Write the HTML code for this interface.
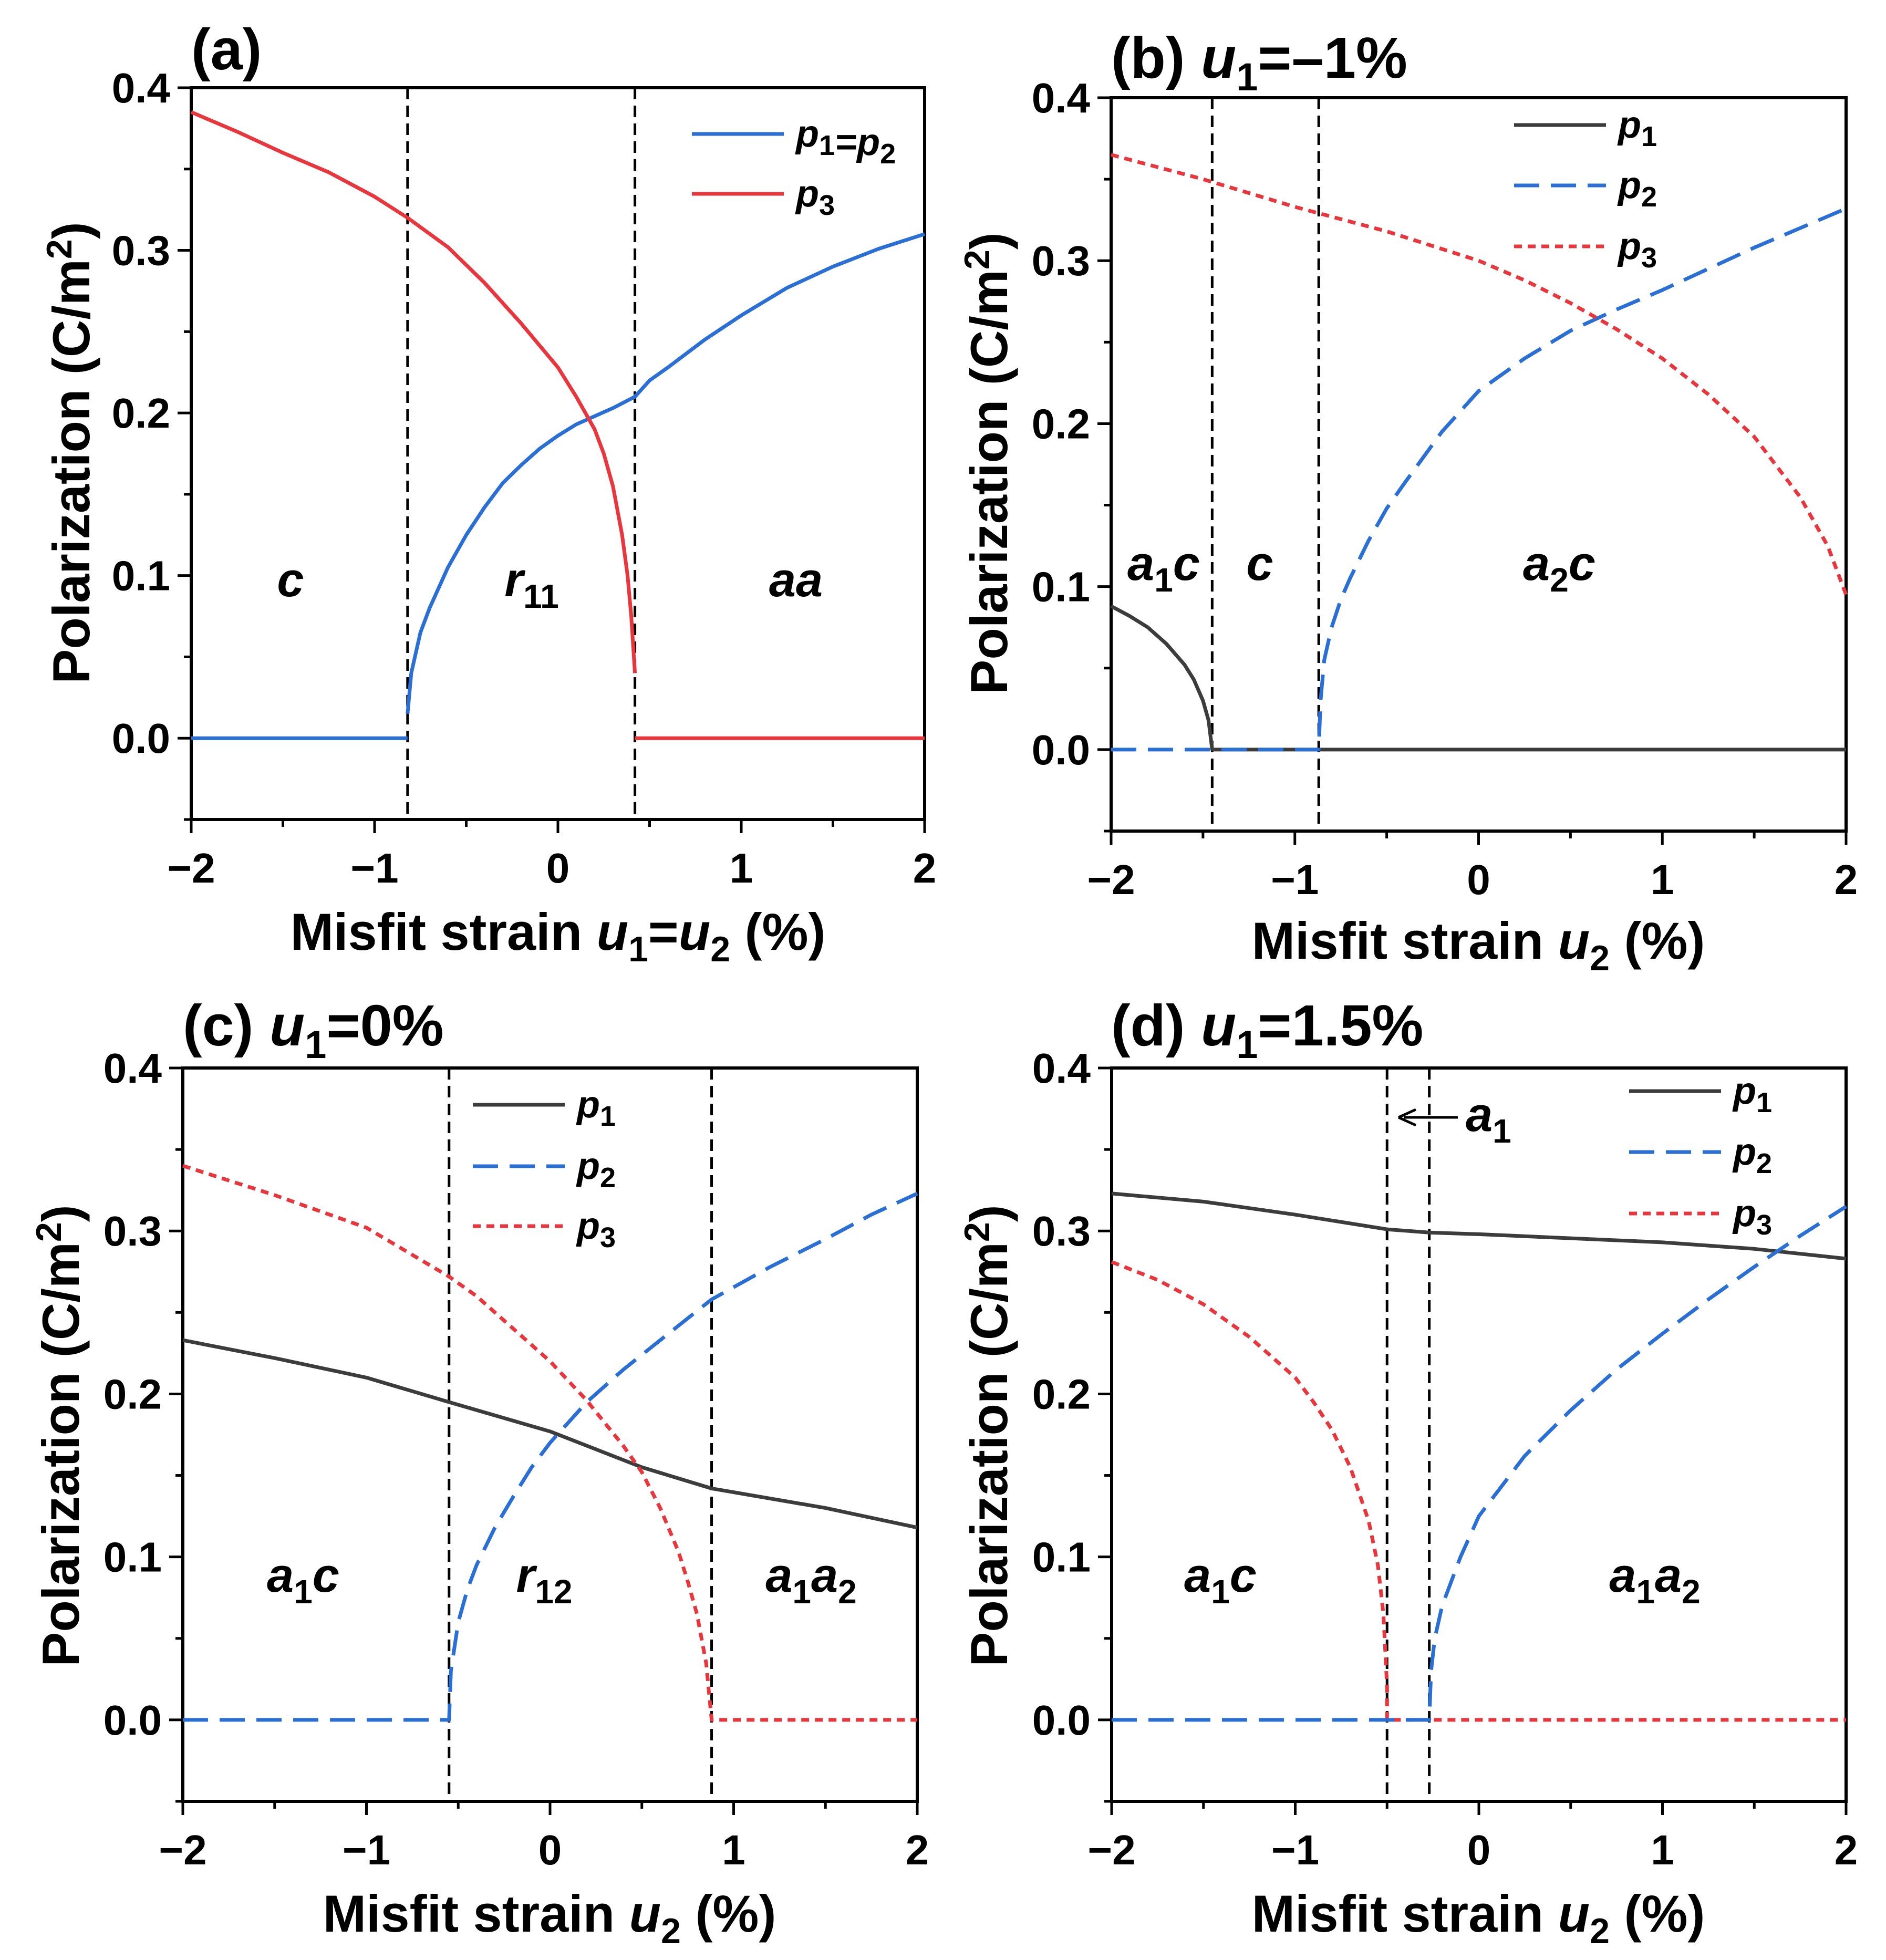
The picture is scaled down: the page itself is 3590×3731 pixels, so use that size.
<!DOCTYPE html>
<html><head><meta charset="utf-8"><style>
html,body{margin:0;padding:0;background:#fff;}
svg{display:block;font-family:"Liberation Sans",Arial,sans-serif;}
.tk{font-size:80px;font-weight:bold;}
.tt{font-size:99px;font-weight:bold;}
.pt{font-size:110px;font-weight:bold;}
.rl{font-size:92px;font-weight:bold;font-style:italic;}
.lg{font-size:72px;font-weight:bold;font-style:italic;}
</style></head><body>
<svg id="fig" width="3590" height="3731" viewBox="0 0 3590 3731" xmlns="http://www.w3.org/2000/svg">
<g id="layer"></g>
<text class="pt" x="364" y="132">(a)</text>
<text class="pt" x="2115" y="148">(b) <tspan font-style="italic">u</tspan><tspan font-size="74" dy="24">1</tspan><tspan dy="-24">=–1%</tspan></text>
<text class="pt" x="348" y="1990">(c) <tspan font-style="italic">u</tspan><tspan font-size="74" dy="24">1</tspan><tspan dy="-24">=0%</tspan></text>
<text class="pt" x="2115" y="1990">(d) <tspan font-style="italic">u</tspan><tspan font-size="74" dy="24">1</tspan><tspan dy="-24">=1.5%</tspan></text>
<text class="tt" x="1062" y="1808" text-anchor="middle">Misfit strain <tspan font-style="italic">u</tspan><tspan font-size="68" dy="22">1</tspan><tspan dy="-22">=</tspan><tspan font-style="italic">u</tspan><tspan font-size="68" dy="22">2</tspan><tspan dy="-22"> (%)</tspan></text>
<text class="tt" x="2814" y="1825" text-anchor="middle">Misfit strain <tspan font-style="italic">u</tspan><tspan font-size="68" dy="22">2</tspan><tspan dy="-22"> (%)</tspan></text>
<text class="tt" x="1046" y="3677" text-anchor="middle">Misfit strain <tspan font-style="italic">u</tspan><tspan font-size="68" dy="22">2</tspan><tspan dy="-22"> (%)</tspan></text>
<text class="tt" x="2814" y="3677" text-anchor="middle">Misfit strain <tspan font-style="italic">u</tspan><tspan font-size="68" dy="22">2</tspan><tspan dy="-22"> (%)</tspan></text>
<text class="tt" transform="translate(170,862) rotate(-90)" text-anchor="middle">Polarization (C/m<tspan font-size="68" dy="-34">2</tspan><tspan dy="34">)</tspan></text>
<text class="tt" transform="translate(1917,882) rotate(-90)" text-anchor="middle">Polarization (C/m<tspan font-size="68" dy="-34">2</tspan><tspan dy="34">)</tspan></text>
<text class="tt" transform="translate(150,2733) rotate(-90)" text-anchor="middle">Polarization (C/m<tspan font-size="68" dy="-34">2</tspan><tspan dy="34">)</tspan></text>
<text class="tt" transform="translate(1917,2733) rotate(-90)" text-anchor="middle">Polarization (C/m<tspan font-size="68" dy="-34">2</tspan><tspan dy="34">)</tspan></text>
<text class="rl" x="553" y="1135" text-anchor="middle">c</text>
<text class="rl" x="1012" y="1135" text-anchor="middle">r<tspan font-size="64" font-style="normal" dy="22">11</tspan></text>
<text class="rl" x="1515" y="1135" text-anchor="middle">aa</text>
<text class="rl" x="2215" y="1104" text-anchor="middle">a<tspan font-size="64" font-style="normal" dy="22">1</tspan><tspan dy="-22">c</tspan></text>
<text class="rl" x="2398" y="1104" text-anchor="middle">c</text>
<text class="rl" x="2968" y="1104" text-anchor="middle">a<tspan font-size="64" font-style="normal" dy="22">2</tspan><tspan dy="-22">c</tspan></text>
<text class="rl" x="577" y="3030" text-anchor="middle">a<tspan font-size="64" font-style="normal" dy="22">1</tspan><tspan dy="-22">c</tspan></text>
<text class="rl" x="1036" y="3030" text-anchor="middle">r<tspan font-size="64" font-style="normal" dy="22">12</tspan></text>
<text class="rl" x="1544" y="3030" text-anchor="middle">a<tspan font-size="64" font-style="normal" dy="22">1</tspan><tspan dy="-22">a</tspan><tspan font-size="64" font-style="normal" dy="22">2</tspan></text>
<text class="rl" x="2323" y="3030" text-anchor="middle">a<tspan font-size="64" font-style="normal" dy="22">1</tspan><tspan dy="-22">c</tspan></text>
<text class="rl" x="3150" y="3030" text-anchor="middle">a<tspan font-size="64" font-style="normal" dy="22">1</tspan><tspan dy="-22">a</tspan><tspan font-size="64" font-style="normal" dy="22">2</tspan></text>
<line x1="2775" y1="2127" x2="2672" y2="2127" stroke="#000" stroke-width="5"/>
<path d="M2662 2127 L2695 2112 M2662 2127 L2695 2142" stroke="#000" stroke-width="5" fill="none"/>
<text class="rl" x="2790" y="2153">a<tspan font-size="64" font-style="normal" dy="22">1</tspan></text>
</svg>
<script>
// ---- data ----
const aX3 = [-2,-1.75,-1.5,-1.25,-1,-0.82,-0.6,-0.4,-0.2,0,0.1,0.2,0.25,0.3,0.35,0.38,0.4,0.42];
const aP3 = [0.385,0.373,0.36,0.348,0.333,0.32,0.302,0.28,0.255,0.228,0.21,0.19,0.175,0.155,0.125,0.1,0.075,0.04];
const aX3z = [0.42,2]; const aP3z = [0,0];
const aX12z = [-2,-0.82]; const aP12z = [0,0];
const aX12 = [-0.82,-0.8,-0.75,-0.7,-0.6,-0.5,-0.4,-0.3,-0.2,-0.1,0,0.1,0.2,0.3,0.42,0.5,0.6,0.8,1,1.25,1.5,1.75,2];
const aP12 = [0.015,0.04,0.065,0.08,0.105,0.125,0.142,0.157,0.168,0.178,0.186,0.193,0.198,0.203,0.21,0.22,0.228,0.245,0.26,0.277,0.29,0.301,0.31];
const aV = [-0.82,0.42];

const bX1 = [-2,-1.9,-1.8,-1.7,-1.6,-1.55,-1.5,-1.47,-1.45,2];
const bP1 = [0.088,0.082,0.075,0.065,0.052,0.043,0.03,0.018,0,0];
const bX2 = [-2,-0.87,-0.86,-0.84,-0.8,-0.75,-0.7,-0.6,-0.5,-0.4,-0.2,0,0.25,0.5,0.75,1,1.25,1.5,1.75,2];
const bP2 = [0,0,0.03,0.055,0.075,0.092,0.105,0.128,0.148,0.164,0.195,0.22,0.24,0.257,0.27,0.282,0.295,0.308,0.32,0.332];
const bX3 = [-2,-1.5,-1,-0.5,0,0.25,0.5,0.75,1,1.25,1.5,1.75,1.9,2];
const bP3 = [0.365,0.35,0.333,0.318,0.30,0.288,0.274,0.258,0.24,0.218,0.192,0.155,0.125,0.095];
const bV = [-1.45,-0.87];

const cX1 = [-2,-1.5,-1,-0.55,0,0.5,0.88,1.5,2];
const cP1 = [0.233,0.222,0.21,0.195,0.177,0.155,0.142,0.13,0.118];
const cX2 = [-2,-0.55,-0.54,-0.5,-0.45,-0.4,-0.3,-0.2,-0.1,0,0.2,0.4,0.6,0.88,1.2,1.5,1.75,2];
const cP2 = [0,0,0.03,0.06,0.08,0.095,0.118,0.137,0.155,0.17,0.195,0.215,0.233,0.258,0.278,0.295,0.31,0.323];
const cX3 = [-2,-1.5,-1,-0.55,-0.4,-0.2,0,0.2,0.4,0.5,0.6,0.7,0.75,0.8,0.85,0.88,2];
const cP3 = [0.34,0.322,0.302,0.272,0.26,0.24,0.22,0.196,0.168,0.152,0.13,0.103,0.085,0.065,0.035,0,0];
const cV = [-0.55,0.88];

const dX1 = [-2,-1.5,-1,-0.5,-0.27,0,1,1.5,2];
const dP1 = [0.323,0.318,0.31,0.301,0.299,0.298,0.293,0.289,0.283];
const dX3 = [-2,-1.75,-1.5,-1.25,-1,-0.9,-0.8,-0.7,-0.6,-0.55,-0.52,-0.5,-0.5,2];
const dP3 = [0.281,0.27,0.255,0.235,0.21,0.195,0.178,0.155,0.122,0.095,0.065,0.02,0,0];
const dX2 = [-2,-0.27,-0.26,-0.24,-0.2,-0.1,0,0.25,0.5,0.75,1,1.25,1.5,1.75,2];
const dP2 = [0,0,0.03,0.05,0.07,0.1,0.125,0.162,0.19,0.215,0.237,0.258,0.278,0.297,0.315];
const dV = [-0.5,-0.27];

const xTicks = [-2,-1,0,1,2];
const xTickLabels = ["\u22122","\u22121","0","1","2"];
const yTicks = [0,0.1,0.2,0.3,0.4];
const yTickLabels = ["0.0","0.1","0.2","0.3","0.4"];

const NS = "http://www.w3.org/2000/svg";
const layer = document.getElementById('layer');
const BLUE="#2a6fd6", RED="#e8363c", BLK="#3c3c3c";

function mk(tag, attrs){const e=document.createElementNS(NS,tag);for(const k in attrs)e.setAttribute(k,attrs[k]);layer.appendChild(e);return e;}

function panel(id, L, R, T, B){
  const sx = v => L + (v+2)/4*(R-L);
  const sy = v => B - (v+0.05)/0.45*(B-T);
  const box = mk('rect',{x:L,y:T,width:R-L,height:B-T,fill:'none',stroke:'#000','stroke-width':6});
  
  
  for(let i=0;i<=8;i++){
    const v=-2+i*0.5, major=i%2===0;
    const t=mk('line',{x1:sx(v),x2:sx(v),y1:B,y2:B+(major?26:14),stroke:'#000','stroke-width':5});
    
    
  }
  for(let i=0;i<=9;i++){
    const v=-0.05+i*0.05, major=Math.abs(Math.round(v*10)-v*10)<1e-6;
    const t=mk('line',{x1:L,x2:L-(major?26:14),y1:sy(v),y2:sy(v),stroke:'#000','stroke-width':5});
    
    
  }
  xTicks.forEach((v,i)=>{
    const t=mk('text',{x:sx(v),y:B+120,'text-anchor':'middle',class:'tk'});
    t.textContent=xTickLabels[i];
    
    
  });
  yTicks.forEach((v,i)=>{
    const t=mk('text',{x:L-40,y:sy(v)+28,'text-anchor':'end',class:'tk'});
    t.textContent=yTickLabels[i];
    
    
  });
  return {sx,sy,L,R,T,B};
}
function series(p, xs, ys, color, dash, name){
  const d = xs.map((x,i)=>(i?'L':'M')+p.sx(x).toFixed(1)+' '+p.sy(ys[i]).toFixed(1)).join(' ');
  const a={d:d,fill:'none',stroke:color,'stroke-width':7,'stroke-linejoin':'round'};
  if(dash) a['stroke-dasharray']=dash;
  const e=mk('path',a);
  
  
}
function vlines(p, vs, id){
  vs.forEach(v=>{
    const e=mk('line',{x1:p.sx(v),x2:p.sx(v),y1:p.T,y2:p.B,stroke:'#000','stroke-width':5,'stroke-dasharray':'22 12'});
    
    
  });
}
function legend(x, ys, items, id){
  items.forEach((it,i)=>{
    const a={x1:x,x2:x+175,y1:ys[i],y2:ys[i],stroke:it.c,'stroke-width':7};
    if(it.d)a['stroke-dasharray']=it.d;
    const l=mk('line',a);
    
    
    const t=mk('text',{x:x+198,y:ys[i]+24,class:'lg'});
    t.innerHTML=it.t;
    
    
  });
}
const SUB=(n)=>'<tspan font-size="54" font-style="normal" dy="16">'+n+'</tspan><tspan dy="-16"></tspan>';
const DASH='48 22', DOT='15 11';

const pa=panel('panel-a',364,1760,167,1560);
vlines(pa,aV,'panel-a');
series(pa,aX12z,aP12z,BLUE,null,'a-p12-zero');
series(pa,aX12,aP12,BLUE,null,'a-p12-line');
series(pa,aX3,aP3,RED,null,'a-p3-line');
series(pa,aX3z,aP3z,RED,null,'a-p3-zero');
legend(1317,[255,369],[{c:BLUE,t:'p'+SUB(1)+'=p'+SUB(2)},{c:RED,t:'p'+SUB(3)}],'panel-a');

const pb=panel('panel-b',2115,3514,186,1582);
vlines(pb,bV,'panel-b');
series(pb,bX1,bP1,BLK,null,'b-p1-line');
series(pb,bX2,bP2,BLUE,DASH,'b-p2-line');
series(pb,bX3,bP3,RED,DOT,'b-p3-line');
legend(2882,[238,353,469],[{c:BLK,t:'p'+SUB(1)},{c:BLUE,d:DASH,t:'p'+SUB(2)},{c:RED,d:DOT,t:'p'+SUB(3)}],'panel-b');

const pc=panel('panel-c',348,1746,2033,3429);
vlines(pc,cV,'panel-c');
series(pc,cX1,cP1,BLK,null,'c-p1-line');
series(pc,cX2,cP2,BLUE,DASH,'c-p2-line');
series(pc,cX3,cP3,RED,DOT,'c-p3-line');
legend(900,[2103,2220,2334],[{c:BLK,t:'p'+SUB(1)},{c:BLUE,d:DASH,t:'p'+SUB(2)},{c:RED,d:DOT,t:'p'+SUB(3)}],'panel-c');

const pd=panel('panel-d',2116,3514,2033,3429);
vlines(pd,dV,'panel-d');
series(pd,dX1,dP1,BLK,null,'d-p1-line');
series(pd,dX3,dP3,RED,DOT,'d-p3-line');
series(pd,dX2,dP2,BLUE,DASH,'d-p2-line');
legend(3101,[2077,2193,2310],[{c:BLK,t:'p'+SUB(1)},{c:BLUE,d:DASH,t:'p'+SUB(2)},{c:RED,d:DOT,t:'p'+SUB(3)}],'panel-d');
</script>
</body></html>
